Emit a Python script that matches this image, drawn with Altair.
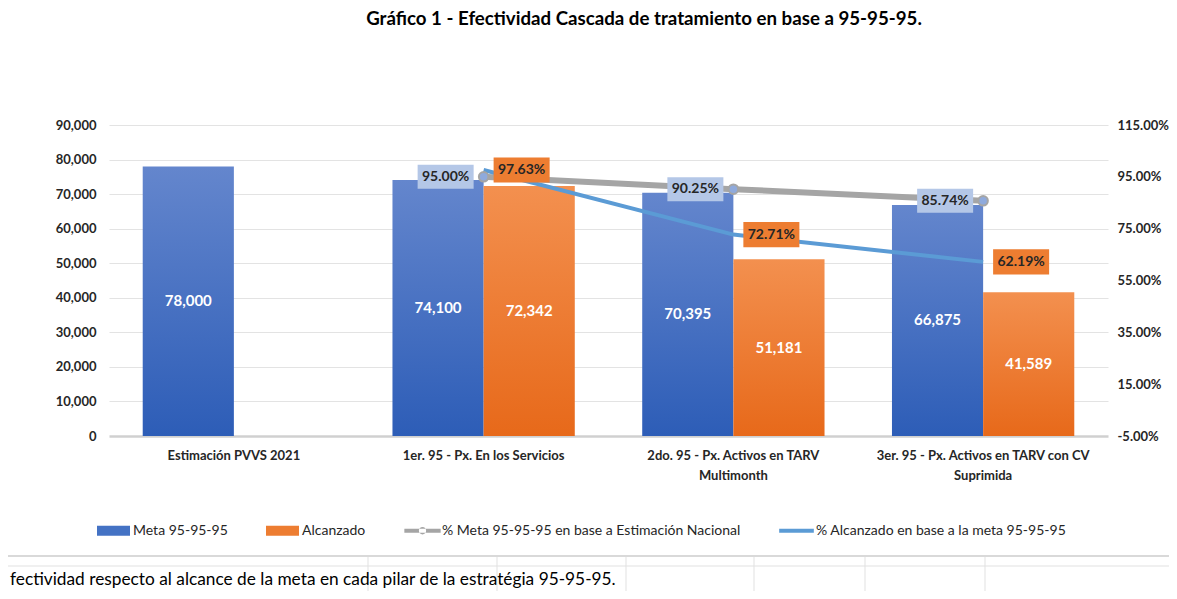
import altair as alt
import pandas as pd

# ---------------- data ----------------
categories = [
    "Estimación PVVS 2021",
    "1er. 95 - Px. En los Servicios",
    "2do. 95 - Px. Activos en TARV Multimonth",
    "3er. 95 - Px. Activos en TARV con CV Suprimida",
]
label_lines = [
    ["Estimación PVVS 2021"],
    ["1er. 95 - Px. En los Servicios"],
    ["2do. 95 - Px. Activos en TARV", "Multimonth"],
    ["3er. 95 - Px. Activos en TARV con CV", "Suprimida"],
]
meta = [78000, 74100, 70395, 66875]
alcanzado = [None, 72342, 51181, 41589]
pct_meta = [None, 0.95, 0.9025, 0.8574]
pct_alcanzado = [None, 0.9763, 0.7271, 0.6219]
series = [
    "Meta 95-95-95",
    "Alcanzado",
    "% Meta 95-95-95 en base a Estimación Nacional",
    "% Alcanzado en base a la meta 95-95-95",
]
colors = ["#4472c4", "#ed7d31", "#a5a5a5", "#5b9bd5"]
legend_shapes = [
    "M-1,-0.3H1V0.3H-1Z",
    "M-1,-0.3H1V0.3H-1Z",
    "M-1.1,-0.12H1.1V0.12H-1.1Z M-0.22,0A0.22,0.22 0 1,0 0.22,0A0.22,0.22 0 1,0 -0.22,0Z",
    "M-1.05,-0.12H1.05V0.12H-1.05Z",
]
left_ticks = [0, 10000, 20000, 30000, 40000, 50000, 60000, 70000, 80000, 90000]
right_ticks = [-0.05, 0.15, 0.35, 0.55, 0.75, 0.95, 1.15]
title_text = "Gráfico 1 - Efectividad Cascada de tratamiento en base a 95-95-95."
footnote = "fectividad respecto al alcance de la meta en cada pilar de la estratégia 95-95-95."

# ---------------- tables ----------------
bar_rows = []
for c, m, a in zip(categories, meta, alcanzado):
    bar_rows.append({"cat": c, "serie": series[0], "valor": m, "mid": m / 2})
    if a is not None:
        bar_rows.append({"cat": c, "serie": series[1], "valor": a, "mid": a / 2})
bars_df = pd.DataFrame(bar_rows)

line_rows = []
for c, pm, pa in zip(categories, pct_meta, pct_alcanzado):
    if pm is not None:
        line_rows.append({"cat": c, "serie": series[2], "pct": pm})
    if pa is not None:
        line_rows.append({"cat": c, "serie": series[3], "pct": pa})
lines_df = pd.DataFrame(line_rows)
legend_df = pd.DataFrame({"serie": series, "pct": [None] * len(series)})

FONT = "Lato"
TXT = "#262626"


def js_arr(lines):
    return "[" + ",".join("'" + s + "'" for s in lines) + "]"


label_expr = "".join(
    f"datum.label == '{c}' ? {js_arr(l)} : " for c, l in zip(categories, label_lines)
) + "datum.label"

x_enc = alt.X(
    "cat:N",
    scale=alt.Scale(domain=categories, paddingInner=0.27, paddingOuter=0.135),
    axis=alt.Axis(
        title=None, labelExpr=label_expr, labelFont=FONT, labelFontSize=13,
        labelFontWeight="bold", labelColor=TXT, labelPadding=13, labelLineHeight=20,
        ticks=False, domain=False, labelAngle=0, labelLimit=400, grid=False,
    ),
)
xoff = alt.XOffset("serie:N", scale=alt.Scale(domain=series[:2], paddingInner=0, paddingOuter=0))

left_axis = alt.Axis(
    title=None, values=left_ticks, format=",.0f", labelFont=FONT, labelFontSize=13,
    labelFontWeight="bold", labelColor=TXT, labelPadding=13, ticks=False, domain=False,
    grid=True,
    gridColor={"condition": {"test": "datum.value === 0", "value": "#d0d0d0"}, "value": "#e3e3e3"},
    gridWidth={"condition": {"test": "datum.value === 0", "value": 2.5}, "value": 1},
)
left_scale = alt.Scale(domain=[0, 90000], nice=False, zero=True)

right_axis = alt.Axis(
    title=None, orient="right", values=right_ticks, format=".2%",
    labelExpr="replace(datum.label, '\u2212', '-')", labelFont=FONT,
    labelFontSize=13, labelFontWeight="bold", labelColor=TXT, labelPadding=9,
    ticks=False, domain=False, grid=False,
)
right_scale = alt.Scale(domain=[-0.05, 1.15], nice=False, zero=False)

legend = alt.Legend(
    title=None, orient="none", legendX=-12, legendY=389, direction="horizontal",
    columns=4, columnPadding=38, symbolSize=1089, symbolStrokeWidth=0,
    labelFont=FONT, labelFontSize=14, labelColor=TXT, labelOffset=3, labelLimit=500,
)

grad_blue = alt.Gradient(
    gradient="linear", x1=0, x2=0, y1=0, y2=1,
    stops=[alt.GradientStop(color="#6486cd", offset=0), alt.GradientStop(color="#2d5db7", offset=1)],
)
grad_orange = alt.Gradient(
    gradient="linear", x1=0, x2=0, y1=0, y2=1,
    stops=[alt.GradientStop(color="#f3904f", offset=0), alt.GradientStop(color="#e7691a", offset=1)],
)

bars_base = alt.Chart(bars_df)
bars_meta = bars_base.transform_filter(alt.datum.serie == series[0]).mark_bar(fill=grad_blue).encode(
    x=x_enc, xOffset=xoff, y=alt.Y("valor:Q", scale=left_scale, axis=left_axis))
bars_alc = bars_base.transform_filter(alt.datum.serie == series[1]).mark_bar(fill=grad_orange).encode(
    x=x_enc, xOffset=xoff, y=alt.Y("valor:Q", scale=left_scale, axis=left_axis))
bar_text = bars_base.mark_text(font=FONT, fontSize=15, fontWeight="bold", color="white").encode(
    x=x_enc, xOffset=xoff, y=alt.Y("mid:Q", scale=left_scale, axis=left_axis),
    text=alt.Text("valor:Q", format=","))
left = alt.layer(bars_meta, bars_alc, bar_text)

lines_base = alt.Chart(lines_df)
y_r = alt.Y("pct:Q", scale=right_scale, axis=right_axis)
gray_line = lines_base.transform_filter(alt.datum.serie == series[2]).mark_line(
    strokeWidth=6, color=colors[2]).encode(x=x_enc, y=y_r)
blue_line = lines_base.transform_filter(alt.datum.serie == series[3]).mark_line(
    strokeWidth=4, color=colors[3]).encode(x=x_enc, y=y_r)
gray_pts = lines_base.transform_filter(alt.datum.serie == series[2]).mark_point(
    shape="circle", filled=True, fill="#8faadc", stroke="#a5a5a5", strokeWidth=2, size=90, opacity=1
).encode(x=x_enc, y=y_r)
box_left = lines_base.transform_filter(alt.datum.serie == series[2]).mark_point(
    shape="M-2.2,-0.4H-0.333V0.4H-2.2Z", filled=True, fill="#b4c7e7", strokeWidth=0, size=3600, opacity=1
).encode(x=x_enc, y=y_r)
box_right = lines_base.transform_filter(alt.datum.serie == series[3]).mark_point(
    shape="M0.333,-0.42H2.2V0.42H0.333Z", filled=True, fill="#ed7d31", strokeWidth=0, size=3600, opacity=1
).encode(x=x_enc, y=y_r)
txt_left = lines_base.transform_filter(alt.datum.serie == series[2]).mark_text(
    dx=-38, font=FONT, fontSize=14, fontWeight="bold", color=TXT
).encode(x=x_enc, y=y_r, text=alt.Text("pct:Q", format=".2%"))
txt_right = lines_base.transform_filter(alt.datum.serie == series[3]).mark_text(
    dx=38, font=FONT, fontSize=14, fontWeight="bold", color=TXT
).encode(x=x_enc, y=y_r, text=alt.Text("pct:Q", format=".2%"))
# legend driver: no valid y values, so nothing is drawn, only the legend
legend_layer = alt.Chart(legend_df).mark_point(filled=True, opacity=1, strokeWidth=0).encode(
    y=y_r,
    color=alt.Color("serie:N", scale=alt.Scale(domain=series, range=colors), legend=legend),
    shape=alt.Shape("serie:N", scale=alt.Scale(domain=series, range=legend_shapes), legend=legend),
)
right = alt.layer(gray_line, blue_line, gray_pts, box_left, box_right, txt_left, txt_right, legend_layer)

# ---- title and spreadsheet cells below the chart (decoration) ----
dummy = alt.Data(values=[{"k": 1}])
OX, OY = 109, 125
decor = []
decor.append(alt.Chart(dummy).mark_text(
    text=title_text, font=FONT, fontSize=18.7, fontWeight="bold", color="#000000",
    align="center", baseline="middle"
).encode(x=alt.value(644 - OX), y=alt.value(19 - OY)))
decor.append(alt.Chart(dummy).mark_rule(color="#d9d9d9", strokeWidth=1).encode(
    x=alt.value(1171 - OX), y=alt.value(-OY), y2=alt.value(556 - OY)))
for py, col, w in [(556, "#d9d9d9", 2), (566, "#e1e1e1", 1), (592, "#d9d9d9", 2)]:
    decor.append(alt.Chart(dummy).mark_rule(color=col, strokeWidth=w).encode(
        x=alt.value(8 - OX), x2=alt.value(1171 - OX), y=alt.value(py - OY)))
for px in [368, 497, 626, 754, 865, 985, 1171]:
    decor.append(alt.Chart(dummy).mark_rule(color="#e1e1e1", strokeWidth=1).encode(
        x=alt.value(px - OX), y=alt.value(557 - OY), y2=alt.value(599 - OY)))
decor.append(alt.Chart(dummy).mark_text(
    text=footnote, font=FONT, fontSize=17.3, color="#000000", align="left", baseline="middle"
).encode(x=alt.value(10 - OX), y=alt.value(580 - OY)))

chart = alt.layer(left, right, *decor).resolve_scale(y="independent").properties(
    width=999, height=311,
    autosize=alt.AutoSizeParams(type="none"),
    padding={"left": 101, "top": 117, "right": 61, "bottom": 155},
).configure_view(stroke=None)

chart.save("out.html", embed_options={"renderer": "svg", "actions": False})
